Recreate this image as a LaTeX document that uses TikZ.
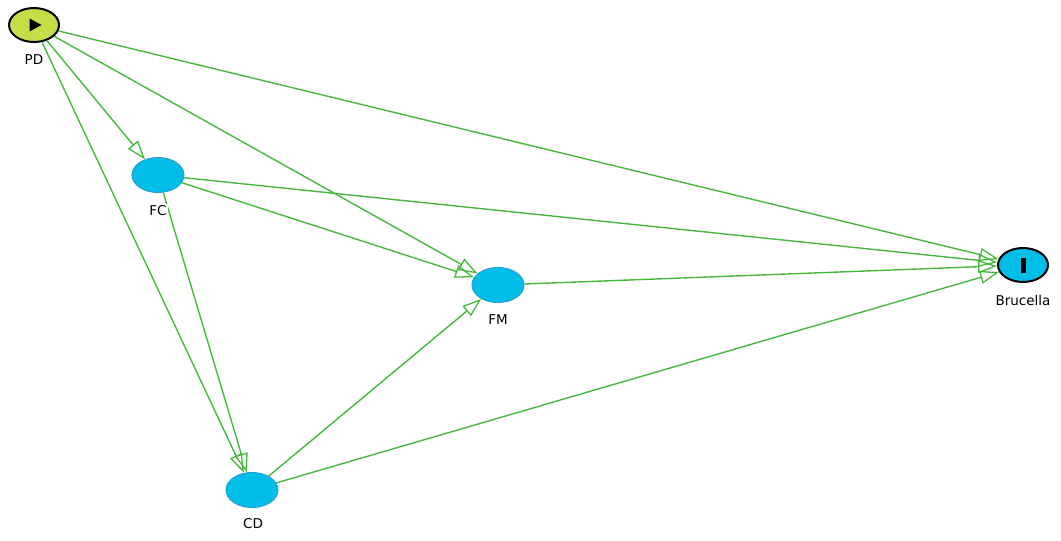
\documentclass[tikz,border=0pt]{standalone}
\usepackage{fontspec}
\setmainfont{DejaVu Sans}
\usetikzlibrary{shapes.geometric,arrows.meta}
\definecolor{edgegreen}{RGB}{70,185,60}
\definecolor{nodecyan}{RGB}{0,190,232}
\definecolor{nodeborder}{RGB}{30,160,215}
\definecolor{pdgreen}{RGB}{195,222,70}
\begin{document}
\begin{tikzpicture}[x=1pt,y=-1pt,
  var/.style={ellipse,fill=nodecyan,draw=nodeborder,line width=1pt,minimum width=52pt,minimum height=35pt,inner sep=0pt},
  endnode/.style={ellipse,draw=black,line width=2pt,minimum width=50pt,minimum height=34pt,inner sep=0pt},
  lbl/.style={font=\fontsize{13.5}{15}\selectfont,fill=white,inner sep=1.5pt},
  edge/.style={draw=edgegreen,line width=1.4pt,-{Triangle[open,length=19pt,width=13pt,line width=1.3pt]}}]
\useasboundingbox (0,0) rectangle (1061,541);
\node[endnode,fill=pdgreen] (PD) at (34,25) {};
\fill[black] (29.5,18.5) -- (41.5,25) -- (29.5,31.5) -- cycle;
\node[var] (FC) at (158,175) {};
\node[var] (FM) at (498,285) {};
\node[var] (CD) at (252,490) {};
\node[endnode,fill=nodecyan] (BR) at (1023,265) {};
\fill[black] (1021,258) rectangle (1025.5,273);
\draw[edge] (PD) -- (FC);
\draw[edge] (PD) -- (FM);
\draw[edge] (PD) -- (CD);
\draw[edge] (PD) -- (BR);
\draw[edge] (FC) -- (FM);
\draw[edge] (FC) -- (BR);
\draw[edge] (FC) -- (CD);
\draw[edge] (FM) -- (BR);
\draw[edge] (CD) -- (FM);
\draw[edge] (CD) -- (BR);
\node[lbl] (lPD) at (34,60) {PD};
\node[lbl] (lFC) at (158,211) {FC};
\node[lbl] (lFM) at (498,320) {FM};
\node[lbl] (lCD) at (253,524) {CD};
\node[lbl] (lBR) at (1023,300) {Brucella};
\end{tikzpicture}
\end{document}
